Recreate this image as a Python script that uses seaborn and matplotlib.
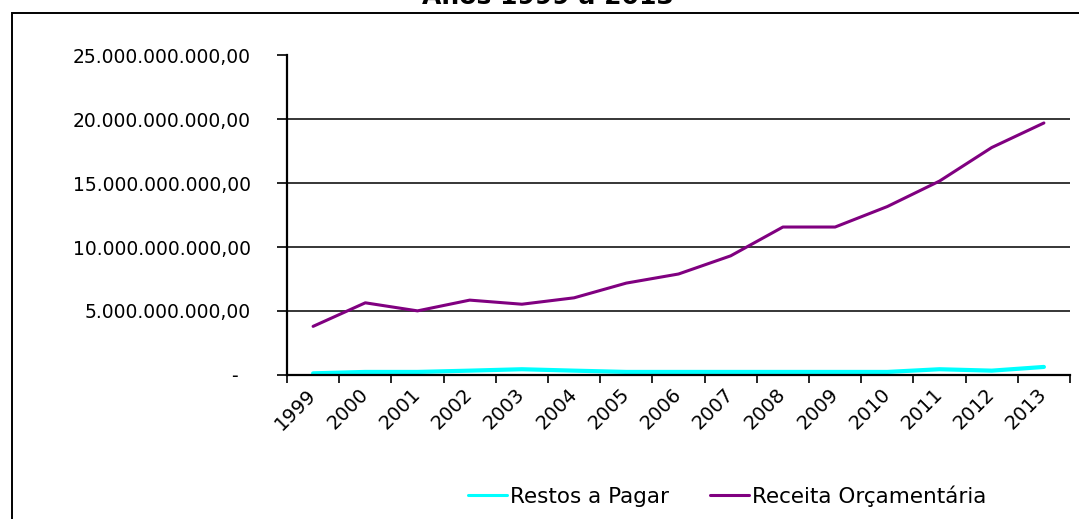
import numpy as np
import pandas as pd
import matplotlib
matplotlib.use("Agg")
import matplotlib.pyplot as plt
import matplotlib.patches as mpatches
from matplotlib.ticker import FuncFormatter
import seaborn as sns

# values (R$)
years = [str(y) for y in range(1999, 2014)]
receita = [3.80e9, 5.64e9, 5.01e9, 5.85e9, 5.53e9, 6.03e9, 7.18e9, 7.89e9,
           9.31e9, 11.56e9, 11.56e9, 13.16e9, 15.15e9, 17.77e9, 19.69e9]
restos = [0.13e9, 0.24e9, 0.24e9, 0.34e9, 0.45e9, 0.34e9, 0.24e9, 0.24e9,
          0.24e9, 0.24e9, 0.24e9, 0.24e9, 0.45e9, 0.34e9, 0.63e9]
series_names = ["Restos a Pagar", "Receita Orçamentária"]
colors = {"Restos a Pagar": "#00FFFF", "Receita Orçamentária": "#800080"}

df = pd.concat([
    pd.DataFrame({"ano": years, "valor": restos, "serie": series_names[0]}),
    pd.DataFrame({"ano": years, "valor": receita, "serie": series_names[1]}),
])

sns.set_theme(style="white", rc={"text.color": "black", "xtick.color": "black",
                                 "ytick.color": "black", "axes.labelcolor": "black"})
plt.rcParams["font.family"] = ["DejaVu Sans"]

W, H = 1079, 519
fig = plt.figure(figsize=(W / 100, H / 100), dpi=100)
ax = fig.add_axes([287 / W, 1 - 375 / H, (1070 - 287) / W, (375 - 55) / H])

sns.lineplot(data=df, x="ano", y="valor", hue="serie", palette=colors,
             hue_order=series_names, ax=ax, legend=False)
ax.lines[0].set_linewidth(3.0)
ax.lines[1].set_linewidth(2.2)

ax.set_xlim(-0.5, len(years) - 0.5)
ax.set_ylim(0, 25e9)
ax.set_yticks(np.arange(0, 25e9 + 1, 5e9))


def br_fmt(v, pos):
    if v == 0:
        return "-  "
    s = f"{v:,.2f}"
    return s.replace(",", "X").replace(".", ",").replace("X", ".")


ax.yaxis.set_major_formatter(FuncFormatter(br_fmt))
ax.tick_params(axis="y", direction="out", length=7, width=1.2, color="black",
               labelsize=13.5, pad=19, left=True)
ax.set_xticks(np.arange(-0.5, len(years), 1), minor=True)
ax.tick_params(axis="x", which="major", length=0, labelsize=14, pad=12)
ax.tick_params(axis="x", which="minor", direction="out", length=6, width=1.2,
               color="black", bottom=True)
for lab in ax.get_xticklabels():
    lab.set_rotation(45)
    lab.set_ha("right")
    lab.set_va("center")
    lab.set_rotation_mode("anchor")

for v in [5e9, 10e9, 15e9, 20e9]:
    ax.axhline(v, color="black", lw=1.1, zorder=0)

for side in ["top", "right"]:
    ax.spines[side].set_visible(False)
for side in ["left", "bottom"]:
    ax.spines[side].set_color("black")
    ax.spines[side].set_linewidth(1.6)
ax.set_xlabel("")
ax.set_ylabel("")

handles = [plt.Line2D([], [], color=colors[n], lw=2.2) for n in series_names]
fig.legend(handles, series_names, loc="center", ncol=2, frameon=False,
           bbox_to_anchor=(727 / W, 1 - 496 / H), fontsize=15.5,
           handlelength=1.8, handletextpad=0.15, columnspacing=1.9)

fig.text(548 / W, 1 - 4 / H, "Anos 1999 a 2013", ha="center", va="baseline",
         fontsize=18, fontweight="bold")

fig.patches.append(mpatches.Rectangle((12 / W, -0.05), 1.2, 1.05 - 12.5 / H,
                                      transform=fig.transFigure, fill=False,
                                      edgecolor="black", lw=1.4))

fig.savefig("out.png", dpi=100)
